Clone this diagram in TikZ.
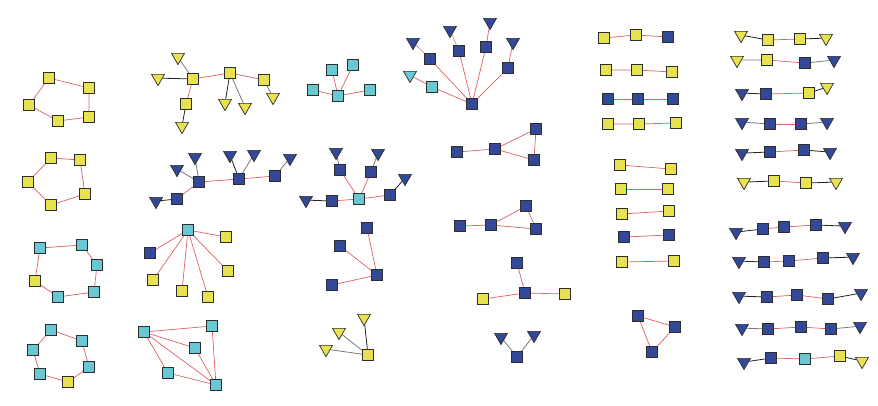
\documentclass[tikz,border=0pt]{standalone}
\usetikzlibrary{shapes.geometric,backgrounds}
\definecolor{cY}{RGB}{232,226,80}
\definecolor{cC}{RGB}{104,200,212}
\definecolor{cB}{RGB}{52,72,152}
\definecolor{cR}{RGB}{222,96,96}
\definecolor{cK}{RGB}{34,34,34}
\definecolor{cG}{RGB}{120,120,130}
\definecolor{cT}{RGB}{214,150,130}
\definecolor{cLine}{RGB}{45,45,45}
\tikzset{
  sqbase/.style={rectangle,draw=cLine,line width=0.7pt,minimum size=11pt,inner sep=0pt},
  sY/.style={sqbase,fill=cY},
  sC/.style={sqbase,fill=cC},
  sB/.style={sqbase,fill=cB},
  trbase/.style={regular polygon,regular polygon sides=3,shape border rotate=180,draw=cLine,line width=0.7pt,minimum size=15pt,inner sep=0pt,yshift=1.9pt},
  tY/.style={trbase,fill=cY},
  tC/.style={trbase,fill=cC},
  tB/.style={trbase,fill=cB},
  re/.style={draw=cR,line width=0.7pt},
  bk/.style={draw=cK,line width=0.8pt},
  gy/.style={draw=cG,line width=0.8pt},
  tn/.style={draw=cT,line width=0.7pt}
}
\begin{document}
\begin{tikzpicture}[x=1pt,y=-1pt]
\useasboundingbox (0,0) rectangle (878,405);
% Graph A
\node[sY] (a1) at (49,78) {}; \node[sY] (a2) at (89,88) {}; \node[sY] (a3) at (89,117) {};
\node[sY] (a4) at (58,121) {}; \node[sY] (a5) at (29,105) {};
% Graph B
\node[sY] (b1) at (193,79) {}; \node[sY] (b2) at (230,73) {}; \node[sY] (b3) at (264,80) {}; \node[sY] (b4) at (186,104) {};
\node[tY] (bt1) at (178,59) {}; \node[tY] (bt2) at (158,80) {}; \node[tY] (bt3) at (225,105) {};
\node[tY] (bt4) at (245,109) {}; \node[tY] (bt5) at (273,99) {}; \node[tY] (bt6) at (182,128) {};
% Graph C
\node[sY] (c1) at (51,158) {}; \node[sY] (c2) at (80,160) {}; \node[sY] (c3) at (85,194) {};
\node[sY] (c4) at (51,205) {}; \node[sY] (c5) at (28,182) {};
% Graph D
\node[sB] (d1) at (199,182) {}; \node[sB] (d2) at (239,179) {}; \node[sB] (d3) at (275,176) {}; \node[sB] (d4) at (177,199) {};
\node[tB] (dt1) at (177,171) {}; \node[tB] (dt2) at (195,159) {}; \node[tB] (dt3) at (230,157) {};
\node[tB] (dt4) at (254,156) {}; \node[tB] (dt5) at (290,160) {}; \node[tB] (dt6) at (156,203) {};
% Graph E
\node[sC] (e0) at (188,230) {}; \node[sY] (e1) at (226,237) {}; \node[sB] (e2) at (150,253) {};
\node[sY] (e3) at (153,280) {}; \node[sY] (e4) at (182,291) {}; \node[sY] (e5) at (208,297) {}; \node[sY] (e6) at (228,271) {};
% Graph F
\node[sC] (f1) at (40,248) {}; \node[sC] (f2) at (82,245) {}; \node[sC] (f3) at (97,265) {};
\node[sC] (f4) at (94,292) {}; \node[sC] (f5) at (58,297) {}; \node[sY] (f6) at (35,281) {};
% Graph G
\node[sC] (g1) at (51,330) {}; \node[sC] (g2) at (82,341) {}; \node[sC] (g3) at (89,367) {};
\node[sY] (g4) at (68,382) {}; \node[sC] (g5) at (40,374) {}; \node[sC] (g6) at (33,350) {};
% Graph H
\node[sC] (h1) at (144,332) {}; \node[sC] (h2) at (212,326) {}; \node[sC] (h3) at (195,348) {};
\node[sC] (h4) at (168,373) {}; \node[sC] (h5) at (216,385) {};
% Graph I
\node[sC] (i0) at (338,96) {}; \node[sC] (i1) at (313,90) {}; \node[sC] (i2) at (332,70) {};
\node[sC] (i3) at (353,65) {}; \node[sC] (i4) at (370,90) {};
% Graph J
\node[sB] (j0) at (472,104) {};
\node[sB] (j1) at (430,59) {}; \node[sB] (j2) at (459,51) {}; \node[sB] (j3) at (486,47) {};
\node[sB] (j4) at (508,68) {}; \node[sC] (j5) at (432,87) {};
\node[tB] (jt1) at (413,44) {}; \node[tB] (jt2) at (450,32) {}; \node[tB] (jt3) at (490,24) {};
\node[tB] (jt4) at (513,44) {}; \node[tC] (jt5) at (410,77) {};
% Graph K
\node[sB] (k1) at (457,152) {}; \node[sB] (k2) at (495,149) {}; \node[sB] (k3) at (536,129) {}; \node[sB] (k4) at (534,160) {};
% Graph L
\node[sC] (l0) at (359,199) {};
\node[sB] (l1) at (340,170) {}; \node[sB] (l2) at (371,172) {}; \node[sB] (l3) at (390,195) {}; \node[sB] (l4) at (332,201) {};
\node[tB] (lt1) at (336,154) {}; \node[tB] (lt2) at (378,155) {}; \node[tB] (lt3) at (405,180) {}; \node[tB] (lt4) at (306,202) {};
% Graph M
\node[sB] (m1) at (460,226) {}; \node[sB] (m2) at (491,225) {}; \node[sB] (m3) at (526,206) {}; \node[sB] (m4) at (536,229) {};
% Graph N
\node[sB] (n1) at (367,228) {}; \node[sB] (n2) at (340,246) {}; \node[sB] (n3) at (377,275) {}; \node[sB] (n4) at (332,285) {};
% Graph O
\node[sB] (o1) at (517,263) {}; \node[sB] (o2) at (525,293) {}; \node[sY] (o3) at (483,299) {}; \node[sY] (o4) at (565,294) {};
% Graph P
\node[sY] (p0) at (368,355) {};
\node[tY] (pt1) at (364,320) {}; \node[tY] (pt2) at (339,334) {}; \node[tY] (pt3) at (326,351) {};
% Graph Q
\node[sB] (q0) at (517,357) {};
\node[tB] (qt1) at (501,339) {}; \node[tB] (qt2) at (534,337) {};
% Left chains
\node[sY] (r1a) at (604,38) {}; \node[sY] (r1b) at (636,35) {}; \node[sB] (r1c) at (668,37) {};
\node[sY] (r2a) at (606,70) {}; \node[sY] (r2b) at (637,70) {}; \node[sY] (r2c) at (672,72) {};
\node[sB] (r3a) at (608,99) {}; \node[sB] (r3b) at (638,99) {}; \node[sB] (r3c) at (673,99) {};
\node[sY] (r4a) at (608,124) {}; \node[sY] (r4b) at (639,124) {}; \node[sY] (r4c) at (676,123) {};
\node[sY] (u1a) at (620,165) {}; \node[sY] (u1b) at (671,169) {};
\node[sY] (u2a) at (621,189) {}; \node[sY] (u2b) at (668,189) {};
\node[sY] (u3a) at (622,214) {}; \node[sY] (u3b) at (669,211) {};
\node[sB] (u4a) at (624,237) {}; \node[sB] (u4b) at (669,235) {};
\node[sY] (u5a) at (622,262) {}; \node[sY] (u5b) at (674,261) {};
\node[sB] (v1) at (638,316) {}; \node[sB] (v2) at (675,327) {}; \node[sB] (v3) at (652,352) {};
% Right chains
\node[tY] (s1a) at (741,37) {}; \node[sY] (s1b) at (768,40) {}; \node[sY] (s1c) at (800,39) {}; \node[tY] (s1d) at (826,40) {};
\node[tY] (s2a) at (737,62) {}; \node[sY] (s2b) at (767,60) {}; \node[sB] (s2c) at (805,63) {}; \node[tB] (s2d) at (834,62) {};
\node[tB] (s3a) at (742,95) {}; \node[sB] (s3b) at (766,94) {}; \node[sY] (s3c) at (809,93) {}; \node[tY] (s3d) at (827,89) {};
\node[tB] (s4a) at (742,124) {}; \node[sB] (s4b) at (770,124) {}; \node[sB] (s4c) at (801,124) {}; \node[tB] (s4d) at (827,124) {};
\node[tB] (s5a) at (742,155) {}; \node[sB] (s5b) at (770,152) {}; \node[sB] (s5c) at (804,150) {}; \node[tB] (s5d) at (830,154) {};
\node[tY] (s6a) at (744,184) {}; \node[sY] (s6b) at (774,181) {}; \node[sY] (s6c) at (806,183) {}; \node[tY] (s6d) at (836,184) {};
\node[tB] (s7a) at (736,234) {}; \node[sB] (s7b) at (763,229) {}; \node[sB] (s7c) at (784,227) {}; \node[sB] (s7d) at (816,225) {}; \node[tB] (s7e) at (845,228) {};
\node[tB] (s8a) at (739,263) {}; \node[sB] (s8b) at (764,262) {}; \node[sB] (s8c) at (789,261) {}; \node[sB] (s8d) at (823,258) {}; \node[tB] (s8e) at (853,259) {};
\node[tB] (s9a) at (739,298) {}; \node[sB] (s9b) at (767,297) {}; \node[sB] (s9c) at (797,295) {}; \node[sB] (s9d) at (828,299) {}; \node[tB] (s9e) at (861,295) {};
\node[tB] (s10a) at (742,330) {}; \node[sB] (s10b) at (768,329) {}; \node[sB] (s10c) at (801,327) {}; \node[sB] (s10d) at (831,329) {}; \node[tB] (s10e) at (860,328) {};
\node[tB] (s11a) at (744,364) {}; \node[sB] (s11b) at (771,358) {}; \node[sC] (s11c) at (805,359) {}; \node[sY] (s11d) at (840,356) {}; \node[tY] (s11e) at (862,363) {};

\begin{pgfonlayer}{background}
% A
\draw[re] (a1)--(a2)--(a3)--(a4)--(a5)--(a1);
% B
\draw[re] (b1)--(b2)--(b3); \draw[re] (b1)--(b4);
\draw[gy] (bt1)--(b1); \draw[bk] (bt2)--(b1); \draw[bk] (b2)--(bt3); \draw[gy] (b2)--(bt4);
\draw[gy] (b3)--(bt5); \draw[bk] (b4)--(bt6);
% C
\draw[re] (c1)--(c2)--(c3)--(c4)--(c5)--(c1);
% D
\draw[re] (d1)--(d2)--(d3); \draw[re] (d1)--(d4);
\draw[gy] (dt1)--(d1); \draw[gy] (dt2)--(d1); \draw[bk] (d2)--(dt3); \draw[gy] (d2)--(dt4);
\draw[gy] (d3)--(dt5); \draw[bk] (d4)--(dt6);
% E
\foreach \t in {e1,e2,e3,e4,e5,e6} \draw[re] (e0)--(\t);
% F
\draw[re] (f1)--(f2)--(f3)--(f4)--(f5)--(f6)--(f1);
% G
\draw[re] (g1)--(g2)--(g3)--(g4)--(g5)--(g6)--(g1);
% H
\draw[re] (h1)--(h2); \draw[re] (h1)--(h3); \draw[re] (h1)--(h4); \draw[re] (h1)--(h5);
\draw[re] (h2)--(h5); \draw[re] (h3)--(h5); \draw[re] (h4)--(h5);
% I
\foreach \t in {i1,i2,i3,i4} \draw[re] (i0)--(\t);
% J
\foreach \t in {j1,j2,j3,j4,j5} \draw[re] (j0)--(\t);
\draw[tn] (j1)--(jt1); \draw[tn] (j2)--(jt2); \draw[re] (j3)--(jt3); \draw[re] (j4)--(jt4); \draw[re] (j5)--(jt5);
% K
\draw[re] (k1)--(k2)--(k3)--(k4)--(k2);
% L
\foreach \t in {l1,l2,l3,l4} \draw[re] (l0)--(\t);
\draw[gy] (l1)--(lt1); \draw[gy] (l2)--(lt2); \draw[bk] (l3)--(lt3); \draw[bk] (l4)--(lt4);
% M
\draw[re] (m1)--(m2)--(m3)--(m4)--(m2);
% N
\draw[re] (n1)--(n3); \draw[re] (n2)--(n3); \draw[re] (n3)--(n4);
% O
\draw[re] (o1)--(o2); \draw[re] (o2)--(o3); \draw[re] (o2)--(o4);
% P
\draw[bk] (p0)--(pt1); \draw[gy] (p0)--(pt2); \draw[gy] (p0)--(pt3);
% Q
\draw[gy] (q0)--(qt1); \draw[gy] (q0)--(qt2);
% Left chains
\draw[re] (r1a)--(r1b)--(r1c);
\draw[re] (r2a)--(r2b)--(r2c);
\draw[re] (r3a)--(r3b)--(r3c);
\draw[re] (r4a)--(r4b)--(r4c);
\draw[re] (u1a)--(u1b); \draw[re] (u2a)--(u2b); \draw[re] (u3a)--(u3b); \draw[re] (u4a)--(u4b); \draw[re] (u5a)--(u5b);
\draw[re] (v1)--(v2)--(v3)--(v1);
% Right chains
\draw[bk] (s1a)--(s1b); \draw[re] (s1b)--(s1c); \draw[bk] (s1c)--(s1d);
\draw[gy] (s2a)--(s2b); \draw[re] (s2b)--(s2c); \draw[gy] (s2c)--(s2d);
\draw[bk] (s3a)--(s3b); \draw[re] (s3b)--(s3c); \draw[bk] (s3c)--(s3d);
\draw[gy] (s4a)--(s4b); \draw[re] (s4b)--(s4c); \draw[gy] (s4c)--(s4d);
\draw[bk] (s5a)--(s5b); \draw[re] (s5b)--(s5c); \draw[bk] (s5c)--(s5d);
\draw[bk] (s6a)--(s6b); \draw[re] (s6b)--(s6c); \draw[bk] (s6c)--(s6d);
\draw[bk] (s7a)--(s7b); \draw[re] (s7b)--(s7c)--(s7d); \draw[bk] (s7d)--(s7e);
\draw[bk] (s8a)--(s8b); \draw[re] (s8b)--(s8c)--(s8d); \draw[bk] (s8d)--(s8e);
\draw[bk] (s9a)--(s9b); \draw[re] (s9b)--(s9c)--(s9d); \draw[bk] (s9d)--(s9e);
\draw[gy] (s10a)--(s10b); \draw[re] (s10b)--(s10c)--(s10d); \draw[gy] (s10d)--(s10e);
\draw[bk] (s11a)--(s11b); \draw[re] (s11b)--(s11c)--(s11d); \draw[bk] (s11d)--(s11e);
\end{pgfonlayer}
\end{tikzpicture}
\end{document}
